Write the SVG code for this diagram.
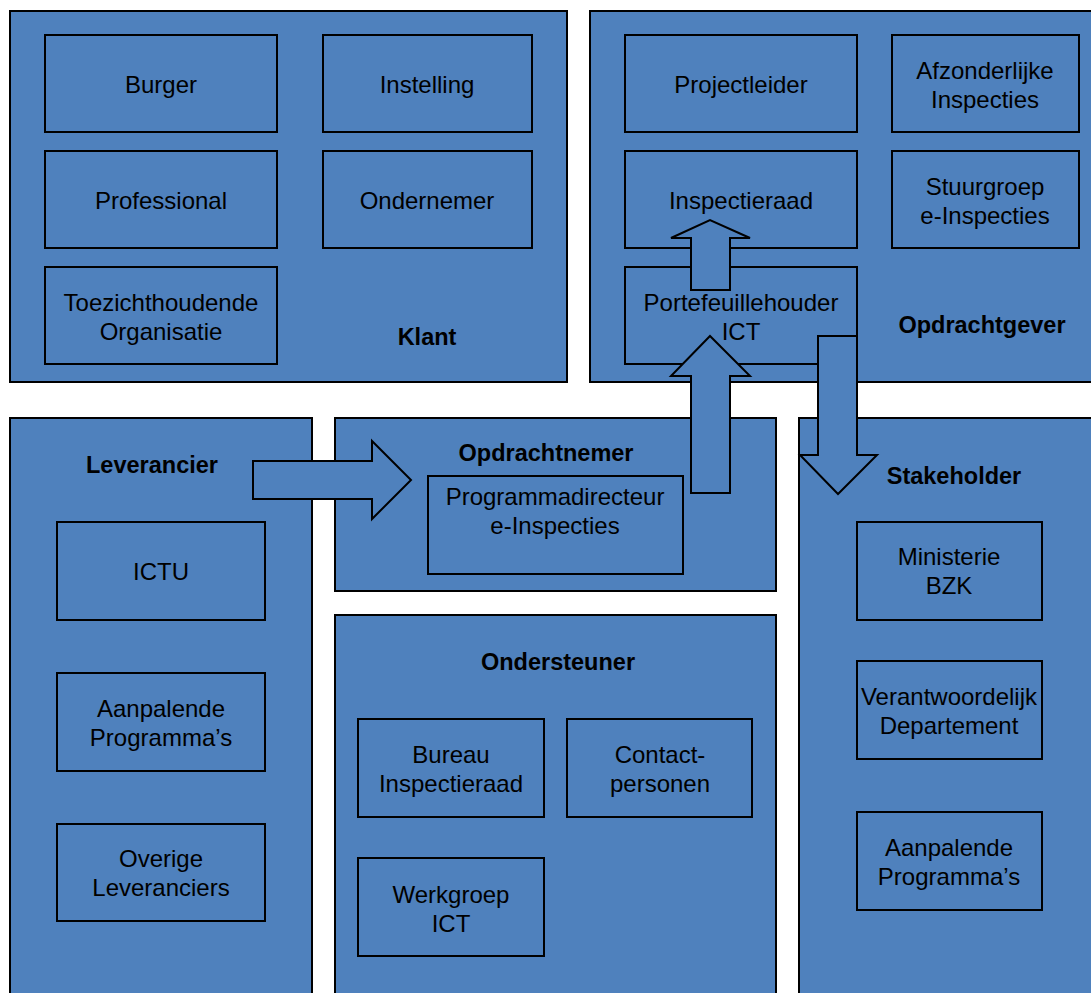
<svg xmlns="http://www.w3.org/2000/svg" width="1091" height="993" viewBox="0 0 1091 993">
<style>
rect, polygon { fill: #4F81BD; stroke: #000; stroke-width: 2; }
text { font-family: "Liberation Sans", Arial, sans-serif; font-size: 24px; fill: #000; text-anchor: middle; }
.t { font-weight: bold; font-size: 23.5px; }
</style>
<rect x="0" y="0" width="1091" height="993" style="fill:#fff;stroke:none"/>
<g id="klant">
<rect x="10" y="11" width="557" height="371"/>
<text class="t" x="427" y="345">Klant</text>
</g>
<g id="opdrachtgever">
<rect x="590" y="11" width="510" height="371"/>
<text class="t" x="982" y="333">Opdrachtgever</text>
</g>
<g id="leverancier">
<rect x="10" y="418" width="302" height="590"/>
<text class="t" x="152" y="473">Leverancier</text>
</g>
<g id="opdrachtnemer">
<rect x="335" y="418" width="441" height="173"/>
<text class="t" x="546" y="461">Opdrachtnemer</text>
</g>
<g id="ondersteuner">
<rect x="335" y="615" width="441" height="390"/>
<text class="t" x="558" y="670">Ondersteuner</text>
</g>
<g id="stakeholder">
<rect x="799" y="418" width="300" height="590"/>
<text class="t" x="954" y="484">Stakeholder</text>
</g>
<g id="burger"><rect x="45" y="35" width="232" height="97"/><text x="161" y="93">Burger</text></g>
<g id="instelling"><rect x="323" y="35" width="209" height="97"/><text x="427" y="93">Instelling</text></g>
<g id="professional"><rect x="45" y="151" width="232" height="97"/><text x="161" y="209">Professional</text></g>
<g id="ondernemer"><rect x="323" y="151" width="209" height="97"/><text x="427" y="209">Ondernemer</text></g>
<g id="toezicht"><rect x="45" y="267" width="232" height="97"/><text x="161" y="311">Toezichthoudende</text><text x="161" y="340">Organisatie</text></g>
<g id="projectleider"><rect x="625" y="35" width="232" height="97"/><text x="741" y="93">Projectleider</text></g>
<g id="afzonderlijke"><rect x="892" y="35" width="187" height="97"/><text x="985" y="79">Afzonderlijke</text><text x="985" y="108">Inspecties</text></g>
<g id="inspectieraad"><rect x="625" y="151" width="232" height="97"/><text x="741" y="209">Inspectieraad</text></g>
<g id="stuurgroep"><rect x="892" y="151" width="187" height="97"/><text x="985" y="195">Stuurgroep</text><text x="985" y="224">e-Inspecties</text></g>
<g id="portefeuillehouder"><rect x="625" y="267" width="232" height="97"/><text x="741" y="311">Portefeuillehouder</text><text x="741" y="340">ICT</text></g>
<g id="ictu"><rect x="57" y="522" width="208" height="98"/><text x="161" y="580">ICTU</text></g>
<g id="aanpalende1"><rect x="57" y="673" width="208" height="98"/><text x="161" y="717">Aanpalende</text><text x="161" y="746">Programma’s</text></g>
<g id="overige"><rect x="57" y="824" width="208" height="97"/><text x="161" y="867">Overige</text><text x="161" y="896">Leveranciers</text></g>
<g id="programmadirecteur"><rect x="428" y="476" width="255" height="98"/><text x="555" y="505">Programmadirecteur</text><text x="555" y="534">e-Inspecties</text></g>
<g id="bureau"><rect x="358" y="719" width="186" height="98"/><text x="451" y="763">Bureau</text><text x="451" y="792">Inspectieraad</text></g>
<g id="contact"><rect x="567" y="719" width="185" height="98"/><text x="660" y="763">Contact-</text><text x="660" y="792">personen</text></g>
<g id="werkgroep"><rect x="358" y="858" width="186" height="98"/><text x="451" y="903">Werkgroep</text><text x="451" y="932">ICT</text></g>
<g id="ministerie"><rect x="857" y="522" width="185" height="98"/><text x="949" y="565">Ministerie</text><text x="949" y="594">BZK</text></g>
<g id="verantwoordelijk"><rect x="857" y="661" width="185" height="98"/><text x="949" y="705">Verantwoordelijk</text><text x="949" y="734">Departement</text></g>
<g id="aanpalende2"><rect x="857" y="812" width="185" height="98"/><text x="949" y="856">Aanpalende</text><text x="949" y="885">Programma’s</text></g>
<g id="connectors">
<polygon points="691,290 691,238 671,238 710,220 750,238 730,238 730,290"/>
<polygon points="691,493 691,376 671,376 710,336 750,376 730,376 730,493"/>
<polygon points="818,336 857,336 857,455 877,455 838,494 800,455 818,455"/>
<polygon points="253,461 372,461 372,441 411,480 372,519 372,499 253,499"/>
</g>
</svg>
